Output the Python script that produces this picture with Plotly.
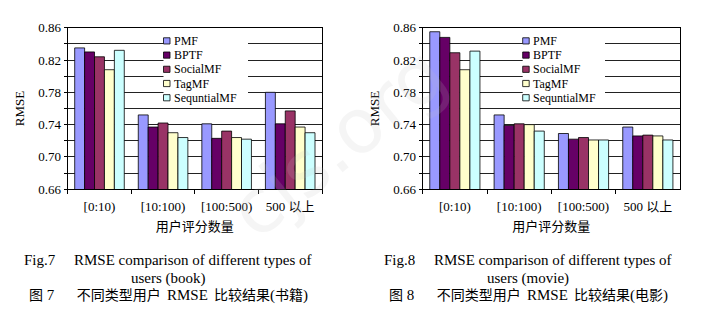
import plotly.graph_objects as go

categories = ["[0:10)", "[10:100)", "[100:500)", "500 以上"]
series_names = ["PMF", "BPTF", "SocialMF", "TagMF", "SequntialMF"]
colors = ["#9999FF", "#660066", "#993366", "#FFFFCC", "#CCFFFF"]

book_pmf = [0.835, 0.752, 0.741, 0.780]
book_bptf = [0.830, 0.737, 0.723, 0.741]
book_social = [0.824, 0.742, 0.732, 0.757]
book_tag = [0.808, 0.730, 0.724, 0.737]
book_seq = [0.832, 0.724, 0.722, 0.730]

movie_pmf = [0.855, 0.752, 0.729, 0.737]
movie_bptf = [0.848, 0.739, 0.722, 0.726]
movie_social = [0.829, 0.741, 0.724, 0.727]
movie_tag = [0.808, 0.740, 0.721, 0.726]
movie_seq = [0.831, 0.732, 0.721, 0.721]

book = [book_pmf, book_bptf, book_social, book_tag, book_seq]
movie = [movie_pmf, movie_bptf, movie_social, movie_tag, movie_seq]

y_range = [0.66, 0.86]
y_title = "RMSE"
x_title = "用户评分数量"

CJK = '<span style="font-size:14px">{}</span>'
captions = [
    ["Fig.7\u2003\u2005RMSE comparison of different types of", "users (book)",
     CJK.format("图") + " 7\u2003\u2002" + CJK.format("不同类型用户") + "\u2006 RMSE\u2006 "
     + CJK.format("比较结果") + "(" + CJK.format("书籍") + ")"],
    ["Fig.8\u2003\u2005RMSE comparison of different types of", "users (movie)",
     CJK.format("图") + " 8\u2003\u2002" + CJK.format("不同类型用户") + "\u2006 RMSE\u2006 "
     + CJK.format("比较结果") + "(" + CJK.format("电影") + ")"],
]

W, H = 714, 327
FONT = "Liberation Serif, Times New Roman, Noto Sans CJK SC, serif"

fig = go.Figure()
for i, name in enumerate(series_names):
    fig.add_trace(go.Bar(x=categories, y=book[i], name=name, xaxis="x", yaxis="y",
                         marker=dict(color=colors[i], line=dict(color="#000", width=0.8)),
                         showlegend=False))
for i, name in enumerate(series_names):
    fig.add_trace(go.Bar(x=categories, y=movie[i], name=name, xaxis="x2", yaxis="y2",
                         marker=dict(color=colors[i], line=dict(color="#000", width=0.8)),
                         showlegend=False))


def px(x):
    return x / W


def py(y):
    return 1 - y / H


ydom = [py(191), py(21.7)]
xaxis_common = dict(type="category", showline=True, linecolor="#000", linewidth=1, mirror=True,
                    ticks="outside", ticklen=4, tickcolor="#000", tickson="boundaries",
                    ticklabelstandoff=5,
                    showgrid=False, tickfont=dict(family=FONT, size=13, color="#000"),
                    title=dict(text=x_title, font=dict(family=FONT, size=13, color="#000"), standoff=9))
yaxis_common = dict(range=y_range, dtick=0.04, tick0=0.66, tickformat=".2f",
                    showline=True, linecolor="#000", linewidth=1, mirror=True,
                    ticks="outside", ticklen=3, tickcolor="#000",
                    showgrid=True, gridcolor="#222", gridwidth=1, zeroline=False,
                    minor=dict(dtick=0.02, tick0=0.66, ticks="outside", ticklen=3, tickcolor="#000",
                               showgrid=True, gridcolor="#222", gridwidth=1),
                    tickfont=dict(family=FONT, size=13, color="#000"),
                    title=dict(text=y_title, font=dict(family=FONT, size=13, color="#000"), standoff=10))

fig.update_layout(
    width=W, height=H, margin=dict(l=0, r=0, t=0, b=0),
    paper_bgcolor="white", plot_bgcolor="white",
    barmode="group", bargap=0.22, bargroupgap=0,
    xaxis=dict(domain=[px(67.7), px(322)], anchor="y", **xaxis_common),
    yaxis=dict(domain=ydom, anchor="x", **yaxis_common),
    xaxis2=dict(domain=[px(422.7), px(680)], anchor="y2", **xaxis_common),
    yaxis2=dict(domain=ydom, anchor="x2", **yaxis_common),
    showlegend=False,
)

# manual legends (one per panel)
legend_boxes = [(163.5, 248), (522.7, 605)]
row_y0, row_step, sq = 35.5, 14.9, 6.5
for (lx, rx) in legend_boxes:
    fig.add_shape(type="rect", xref="paper", yref="paper", layer="above",
                  x0=px(lx), x1=px(rx), y0=py(28.5), y1=py(101.5),
                  fillcolor="white", line=dict(width=0))
    for i, name in enumerate(series_names):
        cy = row_y0 + i * row_step
        fig.add_shape(type="rect", xref="paper", yref="paper", layer="above",
                      x0=px(lx), x1=px(lx + sq), y0=py(cy + sq / 2), y1=py(cy - sq / 2),
                      fillcolor=colors[i], line=dict(color="#000", width=0.8))
        fig.add_annotation(text=name, x=px(lx + sq + 1.5), y=py(cy), xref="paper", yref="paper",
                           showarrow=False, xanchor="left", yanchor="middle",
                           font=dict(family=FONT, size=12, color="#000"))

# watermark
fig.add_annotation(text="cjs.org", x=px(337), y=py(264), xref="paper", yref="paper",
                   showarrow=False, textangle=-39,
                   font=dict(family="DejaVu Sans, sans-serif", size=76, color="rgba(190,190,190,0.16)"))

cap_x = [168, 528]
cap_y = [265, 285, 302]
for c in range(2):
    for j in range(3):
        fig.add_annotation(text=captions[c][j], x=px(cap_x[c]), y=py(cap_y[j]), xref="paper", yref="paper",
                           showarrow=False, xanchor="center", yanchor="middle",
                           font=dict(family=FONT, size=15, color="#000"))

fig.write_html("out.html")
